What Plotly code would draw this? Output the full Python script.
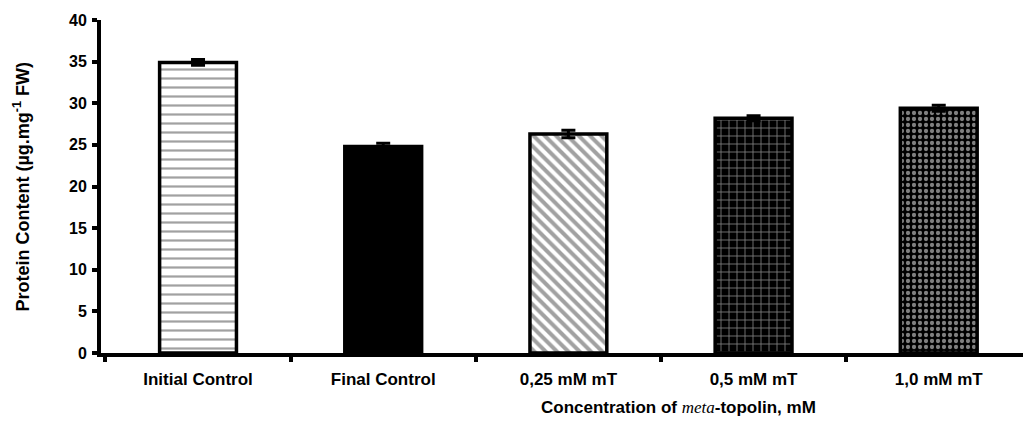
import plotly.graph_objects as go

categories = ["Initial Control", "Final Control", "0,25 mM mT", "0,5 mM mT", "1,0 mM mT"]
values = [34.9, 24.8, 26.3, 28.2, 29.4]
errors = [0.35, 0.4, 0.45, 0.3, 0.35]
y_ticks = [0, 5, 10, 15, 20, 25, 30, 35, 40]

pattern_shapes = ["-", "", "\\", "+", "."]
pattern_bg = ["white", "black", "white", "black", "black"]
pattern_fg = ["black", "black", "black", "white", "white"]
pattern_size = [9, 8, 8, 8, 6]
pattern_solid = [0.25, 0.3, 0.5, 0.2, 0.4]

font = "Liberation Sans, Arial, sans-serif"

fig = go.Figure()
fig.add_trace(go.Bar(
    x=categories, y=values,
    width=0.415,
    marker=dict(
        color=pattern_bg,
        line=dict(color="black", width=3.5),
        pattern=dict(shape=pattern_shapes, fgcolor=pattern_fg, bgcolor=pattern_bg,
                     size=pattern_size, solidity=pattern_solid, fillmode="overlay"),
    ),
    error_y=dict(type="data", array=errors, visible=True, color="black", thickness=3, width=7),
    showlegend=False,
))

fig.update_layout(
    width=1023, height=425,
    margin=dict(l=101, r=0, t=20, b=72),
    plot_bgcolor="white", paper_bgcolor="white",
    font=dict(family=font, color="black"),
)
fig.update_xaxes(
    range=[-0.524, 4.455],
    showline=True, linecolor="black", linewidth=4,
    ticks="outside", tickson="boundaries", ticklen=5, tickwidth=4, tickcolor="black",
    ticklabelstandoff=8,
    tickfont=dict(family=font, size=17, color="black", weight="bold"),
    showgrid=False, zeroline=False,
)
fig.update_yaxes(
    range=[0, 40], tickvals=y_ticks,
    showline=True, linecolor="black", linewidth=4,
    ticks="outside", ticklen=5, tickwidth=4, tickcolor="black",
    ticklabelstandoff=2,
    tickfont=dict(family=font, size=16, color="black", weight="bold"),
    showgrid=False, zeroline=False,
)
fig.add_annotation(
    text="Protein Content (µg.mg<sup>-1</sup> FW)",
    xref="paper", yref="paper", x=-0.0857, y=0.5, xanchor="center", yanchor="middle",
    textangle=-90,
    showarrow=False, font=dict(family=font, size=18, color="black", weight="bold"),
)
fig.add_annotation(
    text='Concentration of <span style="font-family:Liberation Serif;font-style:italic;font-weight:normal">meta</span>-topolin, mM',
    xref="paper", yref="paper", x=0.626, y=-0.165, xanchor="center", yanchor="middle",
    showarrow=False, font=dict(family=font, size=17, color="black", weight="bold"),
)

fig.write_html("out.html")
